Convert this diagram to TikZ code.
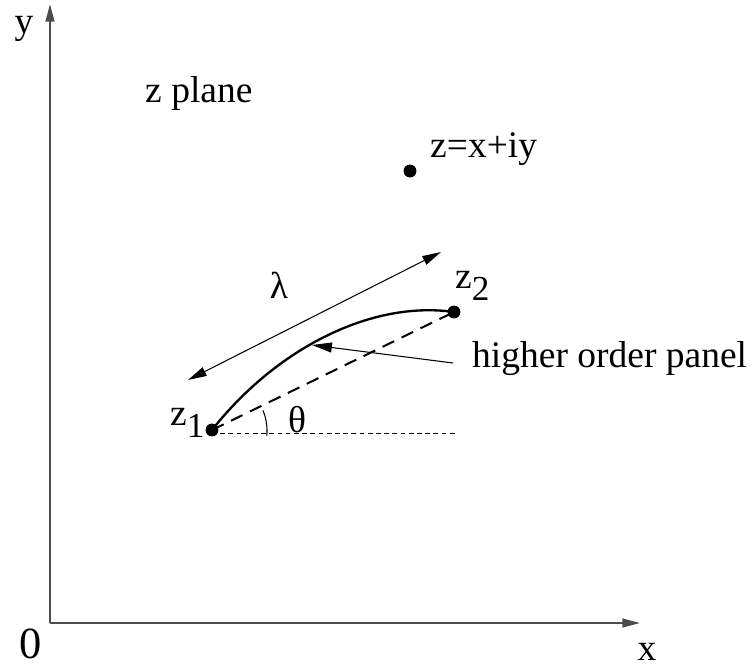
\documentclass[tikz,border=0pt]{standalone}
\usepackage{fontspec}
\setmainfont{Liberation Serif}
\usepackage{tikz}
\usetikzlibrary{arrows.meta}
\newcommand{\lowsub}[1]{\raisebox{-0.32em}{\fontsize{30}{34}\selectfont #1}}

\begin{document}
\begin{tikzpicture}[
  x=0.03cm, y=-0.03cm,
  lbl/.style={inner sep=0pt, font=\fontsize{32}{38}\selectfont},
  pt/.style={circle, fill=black, inner sep=0pt, minimum size=11pt},
  axis/.style={-{Triangle[length=15pt, width=7.5pt]}, line width=1.6pt, color=black!70},
  arr/.style={-{Triangle[length=17pt, width=8.5pt]}, line width=0.9pt},
  darr/.style={{Triangle[length=16pt, width=8pt]}-{Triangle[length=16pt, width=8pt]}, line width=0.9pt}
]
  \useasboundingbox (0,0) rectangle (753,669);

  % axes
  \coordinate (O)    at (50,623);
  \coordinate (xend) at (640,623);
  \coordinate (yend) at (50,4);
  \draw[axis] (O) -- (xend);
  \draw[axis] (O) -- (yend);
  \node[lbl, anchor=base] (lx) at (647,660) {x};
  \node[lbl, anchor=base] (ly) at (24,33)  {y};
  \node[lbl, anchor=base, font=\fontsize{38}{42}\selectfont] (l0) at (31,658) {0};
  \node[lbl, anchor=base west] (plane) at (145,102) {z plane};

  % points
  \node[pt] (zp) at (410,171) {};
  \node[lbl, anchor=base west] (lzp) at (430,157) {z=x+iy};
  \node[pt] (z1) at (212,430) {};
  \node[pt] (z2) at (454,312) {};
  \node[lbl, anchor=base west] (lz1) at (170,425) {z\lowsub{1}};
  \node[lbl, anchor=base west] (lz2) at (455,288) {z\lowsub{2}};

  % panel
  \draw[line width=2pt] (z1.center) .. controls (275,350) and (370,300) .. (z2.center);
  \draw[line width=1.7pt, dash pattern=on 11pt off 7pt] (z1.center) -- (z2.center);
  \coordinate (hend) at (455,433);
  \draw[line width=0.8pt, dash pattern=on 4pt off 3pt] (212,433) -- (hend);
  \draw[line width=0.9pt] (212,431) ++(5:55) arc[start angle=5, end angle=-22, radius=55];
  \node[lbl, anchor=base] (th) at (297,432) {θ};

  % length
  \coordinate (la) at (188,380);
  \coordinate (lb) at (441,252);
  \draw[darr] (la) -- (lb);
  \node[lbl, anchor=base] (lam) at (279,298) {λ};

  % label
  \coordinate (ptail) at (453,363);
  \coordinate (ptip)  at (312,345);
  \draw[arr] (ptail) -- (ptip);
  \node[lbl, anchor=base west] (hop) at (472,367) {higher order panel};
\end{tikzpicture}
\end{document}
